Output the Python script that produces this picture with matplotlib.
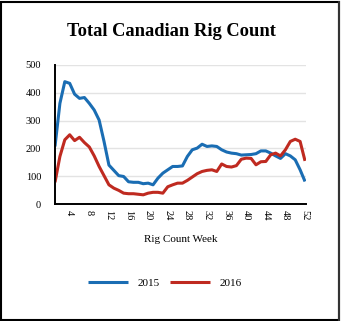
import matplotlib
matplotlib.use("Agg")
import matplotlib.pyplot as plt
from matplotlib.patches import Rectangle

weeks = list(range(1, 53))
rigs_2015 = [207, 362, 440, 434, 395, 380, 383, 362, 338, 302, 225, 140, 121, 102, 99, 80,
             78, 78, 73, 75, 69, 93, 111, 123, 135, 135, 137, 171, 195, 201, 215, 207,
             209, 207, 195, 187, 183, 181, 176, 177, 178, 181, 191, 191, 183, 173, 164,
             181, 173, 159, 123, 81]
rigs_2016 = [78, 171, 231, 249, 228, 240, 221, 205, 173, 135, 102, 69, 57, 49, 39, 37,
             37, 35, 33, 39, 42, 42, 39, 62, 69, 75, 75, 85, 97, 109, 117, 121,
             123, 117, 144, 135, 133, 138, 161, 165, 164, 141, 152, 153, 177, 183, 173,
             195, 225, 233, 225, 155]
xticks = list(range(4, 53, 4))
yticks = [0, 100, 200, 300, 400, 500]

plt.rcParams['font.family'] = ['Liberation Serif', 'DejaVu Serif']

fig = plt.figure(figsize=(3.41, 3.21), dpi=100)
ax = fig.add_axes([55/341, 1 - 204/321, (306 - 55)/341, (204 - 65)/321])

ax.plot(weeks, rigs_2015, color='#1a6db3', lw=2.2, label='2015', solid_capstyle='butt')
ax.plot(weeks, rigs_2016, color='#bf2a20', lw=2.2, label='2016', solid_capstyle='butt')

ax.set_xlim(1, 52.2)
ax.set_ylim(0, 500)
ax.set_yticks(yticks)
ax.set_xticks(xticks)
ax.set_xticklabels([str(t) for t in xticks], rotation=270, fontsize=7.5)
ax.tick_params(axis='y', length=0, labelsize=7.5, pad=10)
ax.tick_params(axis='x', length=0, pad=4)
ax.grid(axis='y', color='#e3e3e3', lw=1)
ax.set_axisbelow(True)
for s in ['top', 'right']:
    ax.spines[s].set_visible(False)
for s in ['left', 'bottom']:
    ax.spines[s].set_linewidth(1.4)
    ax.spines[s].set_color('black')

ax.set_xlabel('Rig Count Week', fontsize=8, labelpad=11)

fig.text(171/341, 1 - 32/321, 'Total Canadian Rig Count', ha='center', va='center',
         fontsize=13.3, fontweight='bold')

fig.legend(loc='center', bbox_to_anchor=(165/341, 1 - 283/321), ncol=2, frameon=False,
           fontsize=8, handlelength=3.6, columnspacing=1.0, handletextpad=0.8)

fig.patches.append(Rectangle((0.003, 0.004), 0.990, 0.990, transform=fig.transFigure,
                             fill=False, edgecolor='black', lw=1.5))
fig.lines.append(plt.Line2D([0.995, 0.995], [0.0, 0.994], transform=fig.transFigure,
                            color='#333333', lw=1.5))

fig.savefig('out.png', dpi=100)
